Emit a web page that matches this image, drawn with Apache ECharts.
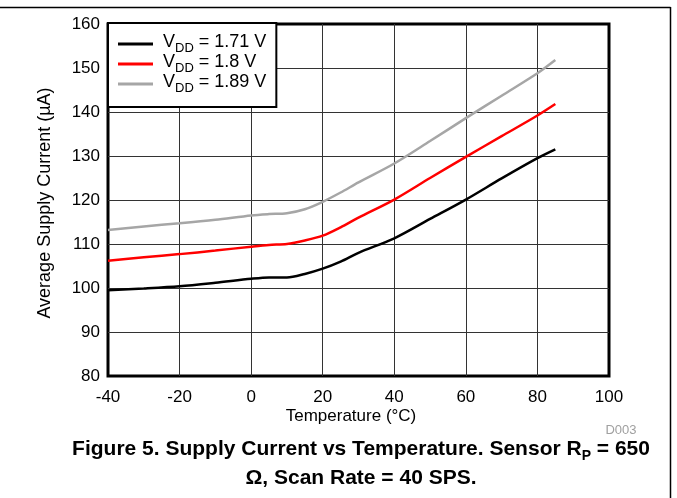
<!DOCTYPE html>
<html>
<head>
<meta charset="utf-8">
<script src="https://cdn.jsdelivr.net/npm/echarts@6/dist/echarts.min.js"></script>
<style>html,body{margin:0;padding:0;background:#fff}#c{width:677px;height:498px}</style>
</head>
<body>
<div id="c"></div>
<script>
// Data
var temps = [-40, -30, -20, -10, 0, 5, 10, 15, 20, 25, 30, 40, 50, 60, 70, 80, 85];
var vdd171 = [99.5, 99.9, 100.4, 101.2, 102.1, 102.4, 102.4, 103.2, 104.4, 106.0, 108.0, 111.3, 115.7, 120.1, 124.9, 129.5, 131.5];
var vdd180 = [106.2, 107.0, 107.7, 108.5, 109.4, 109.8, 110.0, 110.8, 111.9, 113.8, 116.0, 120.1, 125.0, 129.8, 134.5, 139.2, 141.8];
var vdd189 = [113.2, 114.0, 114.7, 115.5, 116.5, 116.8, 117.0, 117.9, 119.6, 121.7, 124.0, 128.3, 133.4, 138.6, 143.7, 148.8, 151.8];
var seriesNames = ['1.71 V', '1.8 V', '1.89 V'];
var seriesColors = ['#000000', '#ff0000', '#a6a6a6'];
var xTicks = {min: -40, max: 100, interval: 20};
var yTicks = {min: 80, max: 160, interval: 10};

function pairs(xs, ys) { return xs.map(function (x, i) { return [x, ys[i]]; }); }
var allValues = [vdd171, vdd180, vdd189];

var FONT = 'Liberation Sans, Arial, sans-serif';
var chart = echarts.init(document.getElementById('c'), null, {renderer: 'canvas'});
var option = {
  backgroundColor: '#fff',
  animation: false,
  grid: {left: 108, top: 24, width: 501, height: 352, show: true, borderColor: '#000', borderWidth: 3, backgroundColor: 'transparent'},
  xAxis: {
    type: 'value', min: xTicks.min, max: xTicks.max, interval: xTicks.interval,
    axisLine: {show: false}, axisTick: {show: false},
    axisLabel: {color: '#000', fontSize: 17, fontFamily: FONT, margin: 13},
    splitLine: {show: true, showMinLine: false, showMaxLine: false, lineStyle: {color: '#333', width: 1}}
  },
  yAxis: {
    type: 'value', min: yTicks.min, max: yTicks.max, interval: yTicks.interval,
    axisLine: {show: false}, axisTick: {show: false},
    axisLabel: {color: '#000', fontSize: 17, fontFamily: FONT, margin: 8},
    splitLine: {show: true, showMinLine: false, showMaxLine: false, lineStyle: {color: '#333', width: 1}}
  },
  legend: {
    orient: 'vertical', left: 108, top: 23,
    backgroundColor: '#fff', borderColor: '#000', borderWidth: 2,
    padding: [10, 10, 12, 10], itemGap: -2, itemWidth: 35, itemHeight: 3, icon: 'rect',
    data: seriesNames,
    formatter: function (name) { return '{f|V}{s|DD}{v| = ' + name + '}'; },
    textStyle: {
      color: '#000', fontFamily: FONT, fontSize: 18,
      rich: {
        f: {fontSize: 18, fontFamily: FONT, color: '#000', lineHeight: 22, verticalAlign: 'top', padding: [0, 0, 0, 5]},
        v: {fontSize: 18, fontFamily: FONT, color: '#000', lineHeight: 22, verticalAlign: 'top'},
        s: {fontSize: 13, fontFamily: FONT, color: '#000', lineHeight: 22, verticalAlign: 'bottom'}
      }
    }
  },
  series: seriesNames.map(function (n, i) {
    return {
      name: n, type: 'line', smooth: 0.3, symbol: 'none', showSymbol: false,
      lineStyle: {color: seriesColors[i], width: 2.5}, itemStyle: {color: seriesColors[i]},
      data: pairs(temps, allValues[i]), z: 3
    };
  }),
  graphic: [
    {type: 'line', shape: {x1: 0, y1: 7.5, x2: 670.5, y2: 7.5}, style: {stroke: '#000', lineWidth: 1.5}},
    {type: 'line', shape: {x1: 670.5, y1: 7, x2: 670.5, y2: 498}, style: {stroke: '#000', lineWidth: 1.5}},
    {type: 'text', x: 45, y: 203, rotation: Math.PI / 2,
      style: {text: 'Average Supply Current (\u00b5A)', font: '18px ' + FONT, fill: '#000', align: 'center', verticalAlign: 'middle'}},
    {type: 'text', x: 351, y: 416,
      style: {text: 'Temperature (\u00b0C)', font: '17px ' + FONT, fill: '#000', align: 'center', verticalAlign: 'middle'}},
    {type: 'text', x: 621, y: 430,
      style: {text: 'D003', font: '13px ' + FONT, fill: '#a0a0a0', align: 'center', verticalAlign: 'middle'}},
    {type: 'text', x: 361, y: 451,
      style: {text: '{b|Figure 5. Supply Current vs Temperature. Sensor R}{s|P}{b| = 650}', align: 'center', verticalAlign: 'middle',
        rich: {b: {font: 'bold 21px ' + FONT, fill: '#000', lineHeight: 25, verticalAlign: 'top'}, s: {font: 'bold 14px ' + FONT, fill: '#000', verticalAlign: 'bottom', lineHeight: 25}}}},
    {type: 'text', x: 361, y: 478,
      style: {text: '\u03a9, Scan Rate = 40 SPS.', font: 'bold 21px ' + FONT, fill: '#000', align: 'center', verticalAlign: 'middle'}}
  ]
};
chart.setOption(option);
</script>
</body>
</html>
